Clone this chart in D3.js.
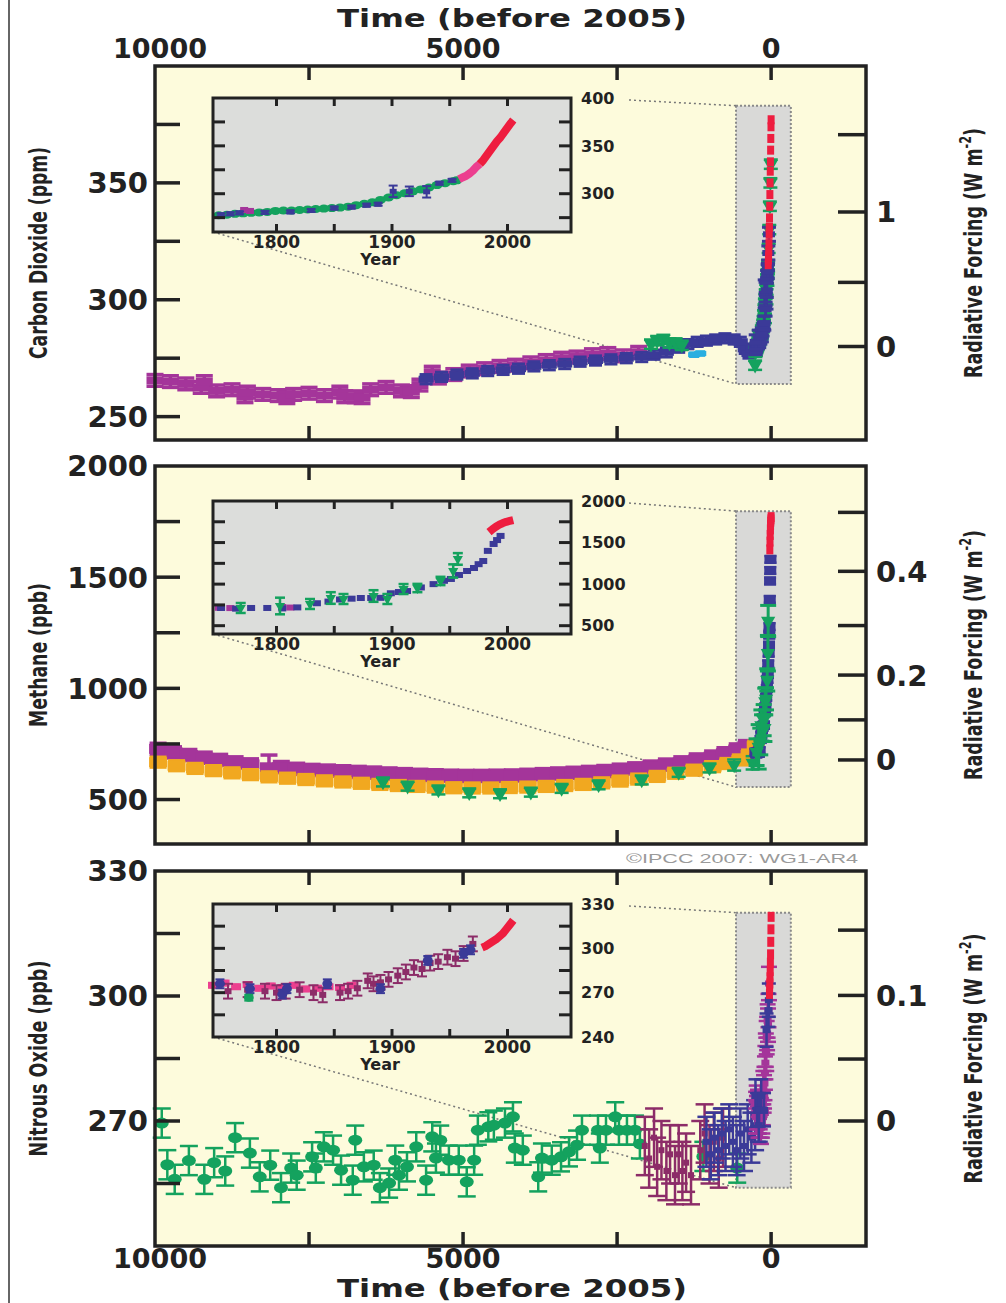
<!DOCTYPE html>
<html>
<head>
<meta charset="utf-8">
<script src="https://cdn.jsdelivr.net/npm/d3@7"></script>
<style>
  body { margin: 0; background: #fff; }
  svg text { font-family: "DejaVu Sans", sans-serif; font-weight: bold; fill: #222; }
</style>
</head>
<body>
<script>
// ---------- data ----------
// main panels: [years before 2005, value, error]; insets: [calendar year, value, error]
const timeTicks = [7500, 5000, 2500, 0];
const timeLabels = [10000, 5000, 0];
const yearTicks = [1800, 1850, 1900, 1950, 2000];
const yearLabels = [1800, 1900, 2000];

// Carbon dioxide (ppm)
const co2Magenta = [[10000,265.5],[9750,265],[9500,264],[9250,262.5],[9200,265],[9000,261],[8750,261.5],[8540,258.5],[8500,260.5],[8250,259.5],[8000,259],[7860,258.1],[7750,259.5],[7500,260],[7250,259],[7000,260.5],[6920,258.5],[6750,258.5],[6640,258.1],[6500,261.5],[6250,262.5],[6000,261],[5840,260.7],[5700,263.5],[5500,269],[5400,266.5],[5150,268],[4900,269.5],[4650,270.5],[4400,271.5],[4150,272],[3900,273],[3650,274],[3400,275],[3150,275.5],[2900,276.5],[2650,277],[2400,276],[2150,277.5]];
const co2Blue = [[5600,266],[5350,267],[5100,268],[4850,268.5],[4600,269.5],[4350,270],[4100,270.5],[3850,271.5],[3600,272],[3350,272.5],[3100,273.5],[2850,274],[2600,274.5],[2350,275],[2100,275.5],[1900,276.5],[1700,277.5],[1500,279.5],[1350,281],[1200,282],[1050,282.5],[900,283],[750,283.5],[600,283],[500,282],[420,279],[360,277],[300,279]];
const co2Green = [[1950,281],[1850,282.5],[1750,283],[1650,281.5],[1550,281.5],[1450,280.5],[260,272],[200,285],[150,287],[100,292],[75,300],[60,308],[50,315],[40,322],[30,330],[20,340],[12,350],[5,358]];
const co2Cyan = [[1250,276.5],[1150,277]];
const co2BlueSpike = [[250,282],[200,284],[150,285],[110,290],[90,296],[70,304],[55,312],[45,320],[35,328]];
const co2GreenYr = [[1750,277.5],[1757,278],[1764,279],[1771,279.5],[1778,280],[1785,280.5],[1792,281],[1799,282],[1806,282.5],[1813,282.5],[1820,283],[1827,283.5],[1834,284],[1841,284.5],[1848,285],[1855,285.5],[1862,286.5],[1869,288],[1876,289.5],[1883,291],[1890,293.5],[1897,296],[1904,298.5],[1911,300.5],[1918,302.5],[1925,304.5],[1932,306.5],[1939,309],[1946,311],[1953,313],[1956,314]];
const co2BlueYr = [[1752,278,1.5],[1760,279,1.5],[1768,280,1.5],[1790,280.5,1.5],[1812,281,1.5],[1830,282.5,1.5],[1850,285,1.5],[1865,286,1.5],[1878,288,1.5],[1888,289,1.5],[1901,302.5,6],[1915,302.5,5],[1930,302,6],[1941,311,1.5],[1952,314,1.5]];
const co2PurpleYr = [[1772,283,1.5],[1777,282,1.5]];
const co2PinkYr = [[1958,315],[1961,317],[1964,318.5],[1967,321],[1970,324],[1973,328],[1976,331]];
const co2RedYr = [[1976,331],[1979,335],[1982,340],[1985,345],[1988,350],[1991,355],[1994,359],[1997,364],[2000,369],[2003,374],[2005,377]];

// Methane (ppb)
const ch4Magenta = [[9950,728],[9700,712],[9450,700],[9200,688],[8950,678],[8700,667],[8450,658],[8150,645,55],[7950,646],[7700,638],[7450,633],[7200,630],[6950,627],[6700,624],[6450,621],[6200,617],[5950,614],[5700,611],[5450,609],[5200,607],[4950,606],[4700,606],[4450,607],[4200,608],[3950,611],[3700,614],[3450,617],[3200,620],[2950,624],[2700,628],[2450,634],[2200,640],[1950,648],[1700,657],[1450,667],[1200,680],[950,693],[750,708],[550,725],[400,740]];
const ch4Orange = [[9950,668],[9650,652],[9350,640],[9050,630],[8750,620],[8450,612],[8150,602],[7850,596],[7550,590],[7250,584],[6950,579],[6650,573],[6350,568],[6050,563],[5750,559],[5450,556],[5150,553],[4850,552],[4550,552],[4250,554],[3950,556],[3650,559],[3350,563],[3050,568],[2750,575],[2450,583],[2150,592],[1850,604],[1550,618],[1250,632],[950,648],[700,662],[500,678],[350,700],[250,740]];
const ch4Green = [[6300,579],[5900,560],[5400,543],[4900,530],[4400,526],[3900,533],[3400,550],[2800,566],[2100,588],[1500,622],[1000,642],[600,655,25],[300,665,30]];
const ch4BlueYr = [[1752,713],[1765,705],[1778,713],[1792,713],[1805,708],[1818,720],[1835,770],[1845,790],[1855,815],[1865,825],[1873,833],[1882,833],[1890,835],[1899,890],[1906,905],[1913,917],[1925,960],[1936,1000],[1945,1040],[1951,1062],[1958,1110],[1965,1158],[1971,1194],[1975,1240],[1979,1278],[1983,1400],[1988,1483],[1991,1530],[1994,1580]];
const ch4GreenYr = [[1769,713,60],[1803,737,100],[1829,761,60],[1847,833,70],[1858,821,60],[1884,857,70],[1896,821,60],[1910,941,60],[1922,953,50],[1942,1038,50],[1953,1158,80],[1957,1303,70]];
const ch4PinkYr = [[1750,715],[1760,712],[1805,725],[1812,718]];
const ch4RedYr = [[1984,1625],[1987,1660],[1990,1690],[1993,1715],[1996,1735],[1999,1750],[2002,1760],[2005,1770]];

// Nitrous oxide (ppb)
const n2oGreen = [[9890,269.5],[9800,259.5],[9680,256],[9450,260.5],[9200,256],[9040,260],[8860,258],[8700,266],[8460,262.3],[8300,256.6],[8130,259.4],[7955,254],[7790,258.7],[7700,257],[7450,261.4],[7390,258.7],[7260,263.8],[7110,263],[6980,258.2],[6790,255.8],[6750,265.4],[6610,259],[6450,259.4],[6350,254],[6200,255.1],[6100,260.6],[6040,257],[5910,259],[5760,263.8],[5600,255.8],[5500,266.2],[5440,261.1],[5370,265.4],[5230,260.6],[5070,260.6],[4940,255.4],[4820,260.6],[4760,267.8],[4590,268.6],[4500,269],[4320,269.5],[4190,271],[4160,263.5],[4030,263],[3780,256.6],[3720,261.1],[3560,260.6],[3410,261.4],[3280,262.6],[3150,264.2],[3070,267.8],[2810,267.8],[2780,263.5],[2680,267.8],[2530,271],[2470,267.8],[2340,267.8],[2210,267.8],[2130,264.5],[1100,261.5],[550,258.7]];
const n2oMaroon = [[2050,264],[1980,261],[1900,266],[1850,259],[1780,263],[1700,258],[1640,262],[1560,257],[1500,262],[1440,258],[1380,260],[1300,257],[1150,263],[1080,267],[1000,262],[930,265],[850,261],[780,266]];
const n2oBlue = [[1050,265],[980,262],[920,266],[860,263],[800,267],[740,264],[680,268],[620,265],[560,263],[500,267],[440,264],[380,268],[320,266],[260,269],[200,271]];
const n2oPinkYr = [[1745,275],[1755,276.5],[1765,274],[1775,275.5],[1785,273],[1795,274.5],[1805,273.5],[1815,275],[1825,272.5],[1835,273],[1845,274],[1855,273.5],[1865,275]];
const n2oMaroonYr = [[1758,271],[1775,272],[1790,271],[1800,270],[1808,271],[1820,272],[1832,270],[1840,268.5],[1855,270],[1862,271],[1870,273],[1879,278],[1884,276],[1890,277],[1897,279],[1905,281.5],[1912,284],[1919,287],[1926,286],[1933,290],[1940,291],[1948,294],[1955,293],[1962,296.5],[1970,303]];
const n2oBlueYr = [[1751,276],[1777,272.7],[1805,269],[1809,272.7],[1844,276],[1890,272.7],[1931,291.8],[1962,296.6],[1968,299]];
const n2oGreenYr = [[1776,266.6]];
const n2oRedYr = [[1978,300.5],[1981,301.5],[1984,303],[1987,304.5],[1990,306],[1993,308],[1996,310],[1999,313],[2002,316],[2005,319]];

// ---------- chart ----------
const svg = d3.select("body").append("svg")
    .attr("width", 1006)
    .attr("height", 1303);

svg.append("line").attr("x1", 9).attr("x2", 9).attr("y1", 0).attr("y2", 1303)
    .attr("stroke", "#333").attr("stroke-width", 1.5);

const x = d3.scaleLinear().domain([10000, -1540]).range([155, 866]);
const xIn = d3.scaleLinear().domain([1745, 2055]).range([213, 571]);
const bp = yr => 2005 - yr;          // calendar year -> years before 2005
const xYr = yr => x(bp(yr));

const ink = "#222";
const narrow = "'Liberation Sans Narrow', 'DejaVu Sans Condensed', sans-serif";
const C = {
    magenta: "#a4359a", blue: "#3b3a98", green: "#14a25e", cyan: "#29aee0",
    red: "#ee1d3f", pink: "#ec3f8f", orange: "#f1a820", maroon: "#8c2c68"
};

// draw points with optional error bars
function marks(g, data, xs, ys, st) {
    const grp = g.append("g");
    const err = d => (d.length > 2 ? d[2] : st.err) || 0;
    const withErr = data.filter(d => err(d) > 0);
    grp.selectAll(null).data(withErr).join("line")
        .attr("x1", d => xs(d[0])).attr("x2", d => xs(d[0]))
        .attr("y1", d => ys(d[1] + err(d))).attr("y2", d => ys(d[1] - err(d)))
        .attr("stroke", st.color).attr("stroke-width", st.sw);
    [1, -1].forEach(s => {
        grp.selectAll(null).data(withErr).join("line")
            .attr("x1", d => xs(d[0]) - st.cap / 2).attr("x2", d => xs(d[0]) + st.cap / 2)
            .attr("y1", d => ys(d[1] + s * err(d))).attr("y2", d => ys(d[1] + s * err(d)))
            .attr("stroke", st.color).attr("stroke-width", st.sw);
    });
    if (st.shape === "rect") {
        grp.selectAll(null).data(data).join("rect")
            .attr("x", d => xs(d[0]) - st.w / 2).attr("y", d => ys(d[1]) - st.h / 2)
            .attr("width", st.w).attr("height", st.h).attr("fill", st.color);
    } else if (st.shape === "dot") {
        grp.selectAll(null).data(data).join("ellipse")
            .attr("cx", d => xs(d[0])).attr("cy", d => ys(d[1]))
            .attr("rx", st.w / 2).attr("ry", st.h / 2).attr("fill", st.color);
    } else if (st.shape === "tri") {
        const tri = d3.symbol(d3.symbolTriangle, st.w * st.w * 0.45);
        grp.selectAll(null).data(data).join("path")
            .attr("transform", d => `translate(${xs(d[0])},${ys(d[1])}) rotate(180)`)
            .attr("d", tri).attr("fill", st.color);
    }
}

function thickLine(g, data, xs, ys, color, width) {
    g.append("path").datum(data)
        .attr("d", d3.line().x(d => xs(d[0])).y(d => ys(d[1])))
        .attr("fill", "none").attr("stroke", color)
        .attr("stroke-width", width).attr("stroke-linejoin", "round");
}

const panels = [
    {
        top: 66, bottom: 440, domain: [240, 400],
        leftTicks: [250, 275, 300, 325, 350, 375], leftLabels: [250, 300, 350],
        rfTicks: [0, 0.5, 1, 1.5], rfLabels: [0, 1], rfConc: rf => 280 * Math.exp(rf / 5.35),
        title: "Carbon Dioxide (ppm)", titleLen: 212,
        inTop: 98, inBottom: 232, inDomain: [260, 400],
        inTicks: [275, 300, 325, 350, 375], inLabels: [400, 350, 300],
        boxT: [570, -320], boxV: [264, 383],
        main: g => {
            marks(g, co2Magenta, x, g.y, { color: C.magenta, err: 2.5, cap: 17, sw: 3.5, shape: "rect", w: 17, h: 8 });
            marks(g, co2Blue, x, g.y, { color: C.blue, err: 2, cap: 13, sw: 3, shape: "rect", w: 15, h: 7 });
            marks(g, co2Cyan, x, g.y, { color: C.cyan, err: 1, cap: 10, sw: 2, shape: "rect", w: 12, h: 5 });
            marks(g, co2Green, x, g.y, { color: C.green, err: 2, cap: 14, sw: 2.5, shape: "tri", w: 14 });
            marks(g, co2GreenYr, xYr, g.y, { color: C.green, err: 2, cap: 14, sw: 2.5, shape: "tri", w: 14 });
            marks(g, co2BlueYr, xYr, g.y, { color: C.blue, cap: 14, sw: 3, shape: "rect", w: 12, h: 6 });
            marks(g, co2BlueSpike, x, g.y, { color: C.blue, err: 3, cap: 14, sw: 3, shape: "rect", w: 12, h: 6 });
            marks(g, co2PinkYr.concat(co2RedYr), xYr, g.y, { color: C.red, shape: "rect", w: 7, h: 9 });
        },
        inset: (g, ys) => {
            marks(g, co2GreenYr, xIn, ys, { color: C.green, err: 1.5, cap: 7, sw: 2, shape: "dot", w: 11, h: 8 });
            marks(g, co2PurpleYr, xIn, ys, { color: C.magenta, cap: 7, sw: 2, shape: "rect", w: 8, h: 6 });
            marks(g, co2BlueYr, xIn, ys, { color: C.blue, cap: 9, sw: 2, shape: "rect", w: 7, h: 5 });
            thickLine(g, co2PinkYr, xIn, ys, C.pink, 8);
            thickLine(g, co2RedYr, xIn, ys, C.red, 8);
        }
    },
    {
        top: 466, bottom: 844, domain: [300, 2000],
        leftTicks: [500, 750, 1000, 1250, 1500, 1750], leftLabels: [500, 1000, 1500, 2000],
        rfTicks: [0, 0.1, 0.2, 0.3, 0.4, 0.5], rfLabels: [0, 0.2, 0.4],
        rfConc: rf => Math.pow(Math.sqrt(678) + rf / 0.0307, 2),
        title: "Methane (ppb)", titleLen: 144,
        inTop: 501, inBottom: 634, inDomain: [400, 2000],
        inTicks: [500, 750, 1000, 1250, 1500, 1750], inLabels: [2000, 1500, 1000, 500],
        boxT: [570, -320], boxV: [556, 1797],
        main: g => {
            marks(g, ch4Magenta, x, g.y, { color: C.magenta, err: 25, cap: 17, sw: 3.5, shape: "rect", w: 18, h: 10 });
            marks(g, ch4Orange, x, g.y, { color: C.orange, err: 22, cap: 17, sw: 3.5, shape: "rect", w: 18, h: 10 });
            marks(g, ch4Green, x, g.y, { color: C.green, err: 20, cap: 14, sw: 2.5, shape: "tri", w: 14 });
            marks(g, ch4PinkYr, xYr, g.y, { color: C.magenta, cap: 12, sw: 2, shape: "rect", w: 12, h: 8 });
            marks(g, ch4BlueYr, xYr, g.y, { color: C.blue, err: 15, cap: 12, sw: 2.5, shape: "rect", w: 12, h: 9 });
            marks(g, ch4GreenYr, xYr, g.y, { color: C.green, cap: 16, sw: 3, shape: "tri", w: 14 });
            marks(g, ch4RedYr, xYr, g.y, { color: C.red, shape: "rect", w: 7, h: 10 });
        },
        inset: (g, ys) => {
            marks(g, ch4PinkYr, xIn, ys, { color: C.magenta, shape: "rect", w: 8, h: 6 });
            marks(g, ch4BlueYr, xIn, ys, { color: C.blue, shape: "rect", w: 8, h: 6 });
            marks(g, ch4GreenYr, xIn, ys, { color: C.green, cap: 10, sw: 2.5, shape: "tri", w: 10 });
            thickLine(g, ch4RedYr, xIn, ys, C.red, 8);
        }
    },
    {
        top: 871, bottom: 1246, domain: [240, 330],
        leftTicks: [255, 270, 285, 300, 315], leftLabels: [270, 300, 330],
        rfTicks: [0, 0.05, 0.1, 0.15], rfLabels: [0, 0.1],
        rfConc: rf => Math.pow(Math.sqrt(270) + rf / 0.112, 2),
        title: "Nitrous Oxide (ppb)", titleLen: 196,
        inTop: 904, inBottom: 1037, inDomain: [240, 330],
        inTicks: [255, 270, 285, 300, 315], inLabels: [330, 300, 270, 240],
        boxT: [570, -320], boxV: [254, 320],
        main: g => {
            marks(g, n2oGreen, x, g.y, { color: C.green, err: 3.5, cap: 18, sw: 2.5, shape: "dot", w: 14, h: 11 });
            marks(g, n2oMaroon, x, g.y, { color: C.maroon, err: 7, cap: 18, sw: 2.5, shape: "rect", w: 6, h: 6 });
            marks(g, n2oBlue, x, g.y, { color: C.blue, err: 6, cap: 18, sw: 2.5, shape: "rect", w: 8, h: 6 });
            marks(g, n2oMaroonYr, xYr, g.y, { color: C.magenta, err: 4, cap: 16, sw: 2.5, shape: "rect", w: 8, h: 6 });
            marks(g, n2oPinkYr, xYr, g.y, { color: C.magenta, err: 2, cap: 14, sw: 2.5, shape: "rect", w: 8, h: 6 });
            marks(g, n2oBlueYr, xYr, g.y, { color: C.blue, err: 4, cap: 14, sw: 2.5, shape: "rect", w: 8, h: 6 });
            marks(g, n2oRedYr, xYr, g.y, { color: C.red, shape: "rect", w: 7, h: 10 });
        },
        inset: (g, ys) => {
            marks(g, n2oPinkYr, xIn, ys, { color: C.pink, err: 1.5, cap: 7, sw: 2, shape: "rect", w: 10, h: 7 });
            marks(g, n2oMaroonYr, xIn, ys, { color: C.maroon, err: 5, cap: 10, sw: 2, shape: "rect", w: 7, h: 6 });
            marks(g, n2oBlueYr, xIn, ys, { color: C.blue, err: 3, cap: 9, sw: 2, shape: "dot", w: 10, h: 9 });
            marks(g, n2oGreenYr, xIn, ys, { color: C.green, err: 2, cap: 9, sw: 2, shape: "dot", w: 10, h: 8 });
            thickLine(g, n2oRedYr, xIn, ys, C.red, 8);
        }
    }
];

const [x0, x1] = x.range();
const [ix0, ix1] = xIn.range();

panels.forEach(p => {
    const y = d3.scaleLinear().domain(p.domain).range([p.bottom, p.top]);
    const yIn = d3.scaleLinear().domain(p.inDomain).range([p.inBottom, p.inTop]);
    const g = svg.append("g");
    g.y = y;

    g.append("rect")
        .attr("x", x0).attr("y", p.top)
        .attr("width", x1 - x0).attr("height", p.bottom - p.top)
        .attr("fill", "#fdfbdc");

    // zoom box and dotted guide lines
    const bx0 = x(p.boxT[0]), bx1 = x(p.boxT[1]);
    const by0 = y(p.boxV[1]), by1 = y(p.boxV[0]);
    g.append("rect")
        .attr("x", bx0).attr("y", by0)
        .attr("width", bx1 - bx0).attr("height", by1 - by0)
        .attr("fill", "#d9d9d7").attr("stroke", "#8a8a8a")
        .attr("stroke-width", 2).attr("stroke-dasharray", "2,2");
    g.append("line")
        .attr("x1", ix0).attr("y1", p.inBottom).attr("x2", bx0).attr("y2", by1)
        .attr("stroke", "#777").attr("stroke-width", 1.5).attr("stroke-dasharray", "2,3");
    g.append("line")
        .attr("x1", ix1 + 58).attr("y1", p.inTop + 2).attr("x2", bx0).attr("y2", by0)
        .attr("stroke", "#777").attr("stroke-width", 1.5).attr("stroke-dasharray", "2,3");

    p.main(g);

    // inset
    const ig = svg.append("g");
    ig.append("rect")
        .attr("x", ix0).attr("y", p.inTop)
        .attr("width", ix1 - ix0).attr("height", p.inBottom - p.inTop)
        .attr("fill", "#dcdddb");
    p.inset(ig, yIn);
    yearTicks.forEach(t => {
        [[p.inTop, 8], [p.inBottom, -8]].forEach(([yy, len]) => {
            ig.append("line").attr("x1", xIn(t)).attr("x2", xIn(t))
                .attr("y1", yy).attr("y2", yy + len)
                .attr("stroke", ink).attr("stroke-width", 3);
        });
    });
    p.inTicks.forEach(v => {
        [[ix0, 12], [ix1, -12]].forEach(([xx, len]) => {
            ig.append("line").attr("x1", xx).attr("x2", xx + len)
                .attr("y1", yIn(v)).attr("y2", yIn(v))
                .attr("stroke", ink).attr("stroke-width", 3);
        });
    });
    ig.append("rect")
        .attr("x", ix0).attr("y", p.inTop)
        .attr("width", ix1 - ix0).attr("height", p.inBottom - p.inTop)
        .attr("fill", "none").attr("stroke", ink).attr("stroke-width", 3);
    yearLabels.forEach(t => {
        ig.append("text").attr("x", xIn(t)).attr("y", p.inBottom + 16)
            .attr("text-anchor", "middle").style("font-size", "17px").text(t);
    });
    ig.append("text").attr("x", (ix0 + ix1) / 2 - 12).attr("y", p.inBottom + 33)
        .attr("text-anchor", "middle").style("font-size", "16px").text("Year");
    p.inLabels.forEach(v => {
        ig.append("text").attr("x", ix1 + 10).attr("y", yIn(v)).attr("dy", "0.36em")
            .style("font-size", "16px").text(v);
    });

    // main frame and ticks
    g.append("rect")
        .attr("x", x0).attr("y", p.top)
        .attr("width", x1 - x0).attr("height", p.bottom - p.top)
        .attr("fill", "none").attr("stroke", ink).attr("stroke-width", 3.5);
    timeTicks.forEach(t => {
        [[p.top, 14], [p.bottom, -14]].forEach(([yy, len]) => {
            g.append("line").attr("x1", x(t)).attr("x2", x(t))
                .attr("y1", yy).attr("y2", yy + len)
                .attr("stroke", ink).attr("stroke-width", 3.5);
        });
    });
    p.leftTicks.forEach(v => {
        g.append("line").attr("x1", x0).attr("x2", x0 + 25)
            .attr("y1", y(v)).attr("y2", y(v))
            .attr("stroke", ink).attr("stroke-width", 3.5);
    });
    p.leftLabels.forEach(v => {
        g.append("text").attr("x", 148).attr("y", y(v)).attr("dy", "0.36em")
            .attr("text-anchor", "end").style("font-size", "29px").text(v);
    });
    p.rfTicks.forEach(rf => {
        const yy = y(p.rfConc(rf));
        g.append("line").attr("x1", x1 - 28).attr("x2", x1)
            .attr("y1", yy).attr("y2", yy)
            .attr("stroke", ink).attr("stroke-width", 3.5);
    });
    p.rfLabels.forEach(rf => {
        g.append("text").attr("x", 876).attr("y", y(p.rfConc(rf))).attr("dy", "0.36em")
            .style("font-size", "29px").text(rf);
    });

    // axis titles
    const mid = (p.top + p.bottom) / 2;
    g.append("text")
        .attr("transform", `translate(47,${mid}) rotate(-90)`)
        .attr("text-anchor", "middle")
        .attr("textLength", p.titleLen).attr("lengthAdjust", "spacingAndGlyphs")
        .style("font-family", narrow)
        .style("font-size", "25px")
        .text(p.title);
    const rt = g.append("text")
        .attr("transform", `translate(982,${mid}) rotate(-90)`)
        .attr("text-anchor", "middle")
        .attr("textLength", 250).attr("lengthAdjust", "spacingAndGlyphs")
        .style("font-family", narrow)
        .style("font-size", "25px");
    rt.append("tspan").text("Radiative Forcing (W m");
    rt.append("tspan").attr("dy", -11).style("font-size", "16px").text("-2");
    rt.append("tspan").attr("dy", 11).text(")");
});

// time axes top and bottom
[[58, 27], [1268, 1297]].forEach(([ly, ty]) => {
    timeLabels.forEach(t => {
        svg.append("text").attr("x", x(t) + (t === 10000 ? 5 : 0)).attr("y", ly)
            .attr("text-anchor", "middle").style("font-size", "27px").text(t);
    });
    svg.append("text").attr("x", 512).attr("y", ty)
        .attr("text-anchor", "middle")
        .attr("textLength", 350).attr("lengthAdjust", "spacingAndGlyphs")
        .style("font-size", "24px")
        .text("Time (before 2005)");
});

svg.append("text").attr("x", 858).attr("y", 863)
    .attr("text-anchor", "end")
    .attr("textLength", 232).attr("lengthAdjust", "spacingAndGlyphs")
    .style("font-family", "'Liberation Sans', sans-serif")
    .style("font-weight", "normal").style("font-size", "13px")
    .style("fill", "#9a9a9a")
    .text("©IPCC 2007: WG1-AR4");
</script>
</body>
</html>
